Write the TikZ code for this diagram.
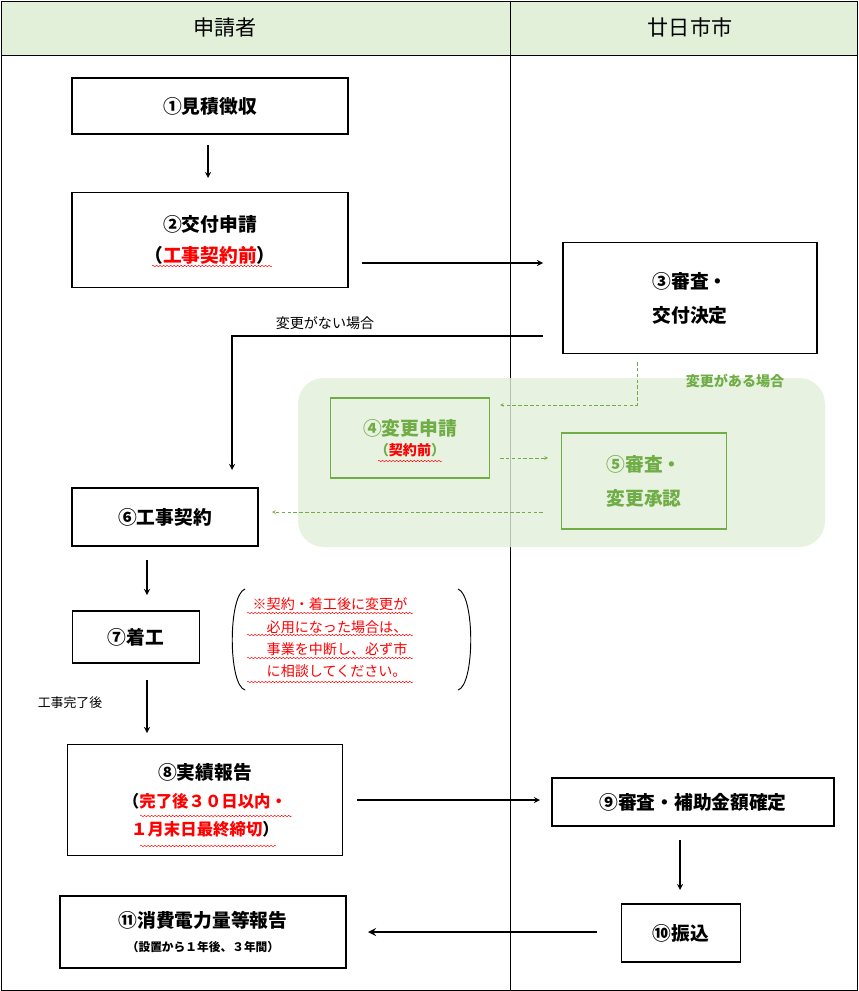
\documentclass[tikz,border=0pt]{standalone}
\usepackage{fontspec}
\setmainfont{Noto Sans CJK JP}
\usetikzlibrary{decorations.pathmorphing}
\definecolor{hdrgreen}{HTML}{E2EFD9}
\definecolor{grn}{HTML}{70AD47}
\definecolor{pale}{HTML}{E2EFD9}
\tikzset{
  box/.style={draw,line width=1.2pt,align=center,inner sep=0pt},
  gbox/.style={draw=grn,line width=1.2pt,align=center,inner sep=0pt,text=grn},
  flow/.style={->,line width=1.3pt,>=stealth},
  gflow/.style={->,grn,densely dashed,>=stealth},
  wavy/.style={red,decorate,decoration={snake,amplitude=.6pt,segment length=3pt}}
}
\newcommand{\redtxt}[1]{\textcolor{red}{#1}}
\begin{document}
\begin{tikzpicture}[x=0.03cm,y=-0.03cm,font=\fontsize{16}{19}\selectfont\bfseries]
  \useasboundingbox (0,0) rectangle (858,991);
  % columns
  \fill[hdrgreen] (1,1) rectangle (857,55);
  \draw (1,1) rectangle (857,990);
  \draw (1,55) -- (857,55);
  \draw (510,1) -- (510,990);
  \node (app) at (225,27) {\fontsize{18}{20}\mdseries 申請者};
  \node (city) at (690,27) {\fontsize{18}{20}\mdseries 廿日市市};
  % change area
  \fill[pale,opacity=.8,rounded corners=22] (298,378) rectangle (825,547);
  % steps
  \node[box,minimum width=276*0.03cm,minimum height=56*0.03cm] (s1) at (210,106) {①見積徴収};
  \node[box,minimum width=276*0.03cm,minimum height=95*0.03cm] (s2) at (210,240) {②交付申請\\[8pt]（\redtxt{工事契約前}）};
  \node[box,minimum width=254*0.03cm,minimum height=111*0.03cm] (s3) at (690,298) {③審査・\\[10pt]交付決定};
  \node[gbox,minimum width=159*0.03cm,minimum height=80*0.03cm] (s4) at (410,438) {④変更申請\\[-2pt]{\fontsize{12}{14}\selectfont （\redtxt{契約前}）}};
  \node[gbox,minimum width=165*0.03cm,minimum height=96*0.03cm] (s5) at (644,481) {⑤審査・\\[10pt]変更承認};
  \node[box,minimum width=186*0.03cm,minimum height=58*0.03cm] (s6) at (165,517) {⑥工事契約};
  \node[box,minimum width=127*0.03cm,minimum height=52*0.03cm] (s7) at (136,637) {⑦着工};
  \node[box,minimum width=275*0.03cm,minimum height=111*0.03cm] (s8) at (205,800) {⑧実績報告\\[5pt]{\fontsize{14}{17}\selectfont（\redtxt{完了後３０日以内・}}\\[5pt]{\fontsize{14}{17}\selectfont\redtxt{１月末日最終締切}）}};
  \node[box,minimum width=282*0.03cm,minimum height=48*0.03cm] (s9) at (693,802) {⑨審査・補助金額確定};
  \node[box,minimum width=119*0.03cm,minimum height=58*0.03cm] (s10) at (681,933) {⑩振込};
  \node[box,minimum width=286*0.03cm,minimum height=72*0.03cm] (s11) at (203,932) {⑪消費電力量等報告\\[2pt]{\fontsize{10}{12}\selectfont （設置から１年後、３年間）}};
  % wavy underlines
  \draw[wavy] (152,266) -- (272,266);
  \draw[wavy] (378,461) -- (442,461);
  \draw[wavy] (140,816) -- (292,816);
  \draw[wavy] (140,846) -- (276,846);
  % note
  \node[align=left,text=red,font=\fontsize{12}{19}\selectfont\mdseries] (note) at (330,638)
    {※契約・着工後に変更が\\\hspace{1em}必用になった場合は、\\\hspace{1em}事業を中断し、必ず市\\\hspace{1em}に相談してください。};
  \foreach \yy in {613,635,658,682} \draw[wavy] (247,\yy) -- (413,\yy);
  \draw[thick] (245,589) .. controls (228,595) and (228,685) .. (245,690);
  \draw[thick] (458,589) .. controls (475,595) and (475,685) .. (458,690);
  % connectors
  \coordinate (c1) at (208,145);
  \coordinate (c2) at (208,178);
  \draw[flow] (c1) -- (c2);
  \coordinate (c3) at (362,263);
  \coordinate (c4) at (543,263);
  \draw[flow] (c3) -- (c4);
  \coordinate (c5) at (543,336);
  \coordinate (c6) at (232,470);
  \draw[flow] (c5) -- (232,336) -- (c6);
  \node[font=\fontsize{12}{14}\selectfont\mdseries] (nochg) at (325,323) {変更がない場合};
  \coordinate (g1) at (637,362);
  \coordinate (g2) at (500,405);
  \draw[gflow] (g1) -- (637,405) -- (g2);
  \node[font=\fontsize{12}{14}\selectfont\bfseries,text=grn] (chg) at (735,381) {変更がある場合};
  \coordinate (g3) at (500,458);
  \coordinate (g4) at (548,458);
  \draw[gflow] (g3) -- (g4);
  \coordinate (g5) at (543,512);
  \coordinate (g6) at (272,512);
  \draw[gflow] (g5) -- (g6);
  \coordinate (c7) at (147,560);
  \coordinate (c8) at (147,595);
  \draw[flow] (c7) -- (c8);
  \coordinate (c9) at (147,680);
  \coordinate (c10) at (147,733);
  \draw[flow] (c9) -- (c10);
  \node[font=\fontsize{11}{13}\selectfont\mdseries] (done) at (70,703) {工事完了後};
  \coordinate (c11) at (357,800);
  \coordinate (c12) at (540,800);
  \draw[flow] (c11) -- (c12);
  \coordinate (c13) at (680,840);
  \coordinate (c14) at (680,890);
  \draw[flow] (c13) -- (c14);
  \coordinate (c15) at (597,932);
  \coordinate (c16) at (368,932);
  \draw[flow,line width=2pt] (c15) -- (c16);
\end{tikzpicture}
\end{document}
